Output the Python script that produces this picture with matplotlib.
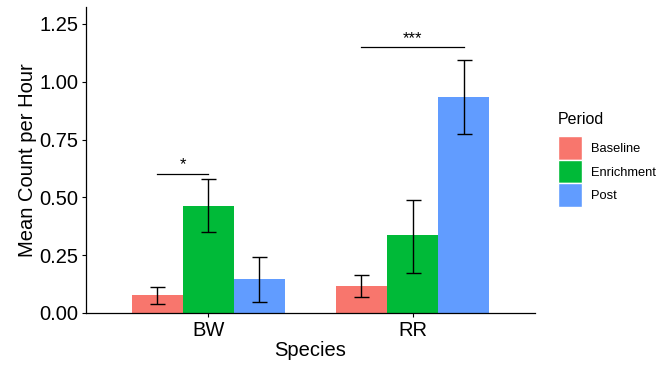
import numpy as np
import matplotlib.pyplot as plt
from matplotlib.patches import Patch

plt.rcParams['font.family'] = ['Liberation Sans', 'DejaVu Sans']

# data
species = ['BW', 'RR']
periods = ['Baseline', 'Enrichment', 'Post']
colours = ['#F8766D', '#00BA38', '#619CFF']

baseline = [0.078, 0.117]
enrichment = [0.464, 0.336]
post = [0.147, 0.933]

baseline_err_lo = [0.039, 0.068]
baseline_err_hi = [0.114, 0.164]
enrichment_err_lo = [0.352, 0.173]
enrichment_err_hi = [0.578, 0.490]
post_err_lo = [0.049, 0.776]
post_err_hi = [0.242, 1.093]

means = [baseline, enrichment, post]
lows = [baseline_err_lo, enrichment_err_lo, post_err_lo]
highs = [baseline_err_hi, enrichment_err_hi, post_err_hi]

# significance brackets: (species index, from period, to period, height, label)
sig_species = [0, 1]
sig_from = [0, 0]
sig_to = [1, 2]
sig_height = [0.602, 1.149]
sig_label = ['*', '***']

fig = plt.figure(figsize=(6.58, 3.68), dpi=100)
ax = fig.add_axes([0.1307, 0.1495, 0.8130 - 0.1307, 0.981 - 0.1495])

x = np.arange(1, len(species) + 1)
w = 0.25
offsets = [-w, 0, w]

for i in range(len(periods)):
    xs = x + offsets[i]
    ax.bar(xs, means[i], width=w, color=colours[i], edgecolor='none', zorder=2)
    m = np.array(means[i])
    lo = m - np.array(lows[i])
    hi = np.array(highs[i]) - m
    ax.errorbar(xs, m, yerr=[lo, hi], fmt='none', ecolor='black',
                elinewidth=1.0, capsize=5.4, capthick=1.0, zorder=3)

# brackets with stars
for s, a, b, h, lab in zip(sig_species, sig_from, sig_to, sig_height, sig_label):
    x0 = x[s] + offsets[a]
    x1 = x[s] + offsets[b]
    ax.plot([x0, x1], [h, h], color='black', lw=0.9)
    ax.text((x0 + x1) / 2, h + 0.018, lab, ha='center', va='baseline', fontsize=12)

ax.set_xlim(0.4, 2.6)
ax.set_ylim(0, 1.323)
ax.set_xticks(x)
ax.set_xticklabels(species)
ax.set_yticks([0, 0.25, 0.5, 0.75, 1.0, 1.25])
ax.set_yticklabels(['0.00', '0.25', '0.50', '0.75', '1.00', '1.25'])
ax.tick_params(labelsize=14.5, length=3, width=0.8, colors='black', pad=2.5)

for side in ['top', 'right']:
    ax.spines[side].set_visible(False)
for side in ['left', 'bottom']:
    ax.spines[side].set_linewidth(0.9)

ax.set_xlabel('Species', fontsize=14.5, labelpad=1)
ax.set_ylabel('Mean Count per Hour', fontsize=14.5, labelpad=2)

# legend: title drawn on its own so there is a gap above the keys
fig.text(558 / 658, 1 - 112 / 368, 'Period', fontsize=11.5, ha='left', va='top')
handles = [Patch(facecolor=c, edgecolor='white', lw=1) for c in colours]
fig.legend(handles, periods, loc='upper left',
           bbox_to_anchor=(558 / 658, 1 - 136 / 368), frameon=False, fontsize=9.3,
           handlelength=1.84, handleheight=2.45, labelspacing=0.0,
           handletextpad=0.7, borderpad=0, borderaxespad=0)

fig.savefig('out.png', dpi=100)
